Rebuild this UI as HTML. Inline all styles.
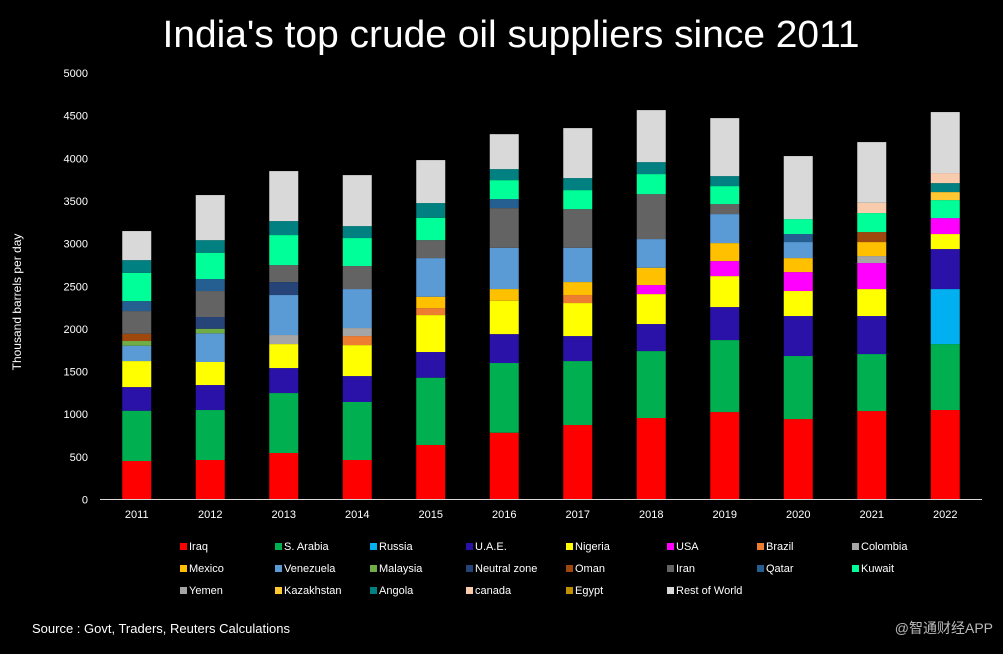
<!DOCTYPE html>
<html><head><meta charset="utf-8"><style>
html,body{margin:0;padding:0;background:#000;}
body{width:1003px;height:649px;overflow:hidden;font-family:"Liberation Sans","Noto Sans CJK SC",sans-serif;}
</style></head><body>
<svg id="chart" width="1003" height="649" xmlns="http://www.w3.org/2000/svg">
<rect width="1003" height="649" fill="#000"/>
<text x="511" y="47" text-anchor="middle" fill="#fff" font-size="38" textLength="697" lengthAdjust="spacingAndGlyphs" font-family="Liberation Sans, sans-serif">India's top crude oil suppliers since 2011</text>
<text transform="translate(21,302) rotate(-90)" text-anchor="middle" fill="#fff" font-size="12">Thousand barrels per day</text>
<g id="yaxis"></g><g id="bars"></g><g id="xaxis"></g><g id="legend"></g>
<text x="32" y="633" fill="#fff" font-size="13">Source : Govt, Traders, Reuters Calculations</text>
<text x="993" y="633" text-anchor="end" fill="#bbb" font-size="14" font-family="Liberation Sans, Noto Sans CJK SC, sans-serif">@智通财经APP</text>
</svg>
<script>
const years = ['2011','2012','2013','2014','2015','2016','2017','2018','2019','2020','2021','2022'];
const seriesNames = ['Iraq','S. Arabia','Russia','U.A.E.','Nigeria','USA','Brazil','Colombia','Mexico','Venezuela','Malaysia','Neutral zone','Oman','Iran','Qatar','Kuwait','Yemen','Kazakhstan','Angola','canada','Egypt','Rest of World'];
const seriesColors = ['#ff0000','#00b050','#00b0f0','#2a12a8','#ffff00','#ff00ff','#ed7d31','#a5a5a5','#ffc000','#5b9bd5','#70ad47','#264478','#9e480e','#636363','#255e91','#00ff99','#a5a5a5','#ffc832','#008080','#f8cbad','#bf9000','#d9d9d9'];
const iraq      = [451,463,545,463,639,783,873,955,1025,943,1037,1049];
const saudi     = [590,586,703,680,789,817,750,785,844,739,668,773];
const russia    = [0,0,0,0,0,0,0,0,0,0,0,645];
const uae       = [277,293,293,304,301,339,293,317,387,469,446,469];
const nigeria   = [305,270,281,363,433,391,387,351,363,293,316,176];
const usa       = [0,0,0,0,0,0,0,106,176,222,305,187];
const brazil    = [0,0,0,106,82,0,94,0,0,0,0,0];
const colombia  = [0,0,106,94,0,0,0,0,0,0,82,0];
const mexico    = [0,0,0,0,133,137,152,203,211,164,164,0];
const venezuela = [180,336,469,457,453,484,402,336,340,188,0,0];
const malaysia  = [55,54,0,0,0,0,0,0,0,0,0,0];
const neutral   = [0,137,152,0,0,0,0,0,0,0,0,0];
const oman      = [85,0,0,0,0,0,0,0,0,0,117,0];
const iran      = [266,305,199,270,211,465,453,527,117,0,0,0];
const qatar     = [117,140,0,0,0,106,0,0,0,94,0,0];
const kuwait    = [332,309,352,328,262,222,223,235,211,175,223,211];
const yemen     = [0,0,0,0,0,0,0,0,0,0,0,0];
const kazakh    = [0,0,0,0,0,0,0,0,0,0,0,94];
const angola    = [148,147,164,140,172,129,141,140,117,0,0,105];
const canada    = [0,0,0,0,0,0,0,0,0,0,121,118];
const egypt     = [0,0,0,0,0,0,0,0,0,0,0,0];
const rest      = [341,529,586,598,504,410,586,610,680,739,711,715];
const yTicks = [0,500,1000,1500,2000,2500,3000,3500,4000,4500,5000];
const allSeries = [iraq,saudi,russia,uae,nigeria,usa,brazil,colombia,mexico,venezuela,malaysia,neutral,oman,iran,qatar,kuwait,yemen,kazakh,angola,canada,egypt,rest];

const NS='http://www.w3.org/2000/svg';
const plotL=100, plotR=982, y0=499.5, yTop=73, yMax=5000;
const yScale=v=>y0-(v/yMax)*(y0-yTop);
const band=(plotR-plotL)/years.length;
const xCenter=i=>plotL+band*(i+0.5);
const barW=29;
function mk(tag,attrs,parent){const e=document.createElementNS(NS,tag);for(const k in attrs)e.setAttribute(k,attrs[k]);parent.appendChild(e);return e;}

const ya=document.getElementById('yaxis');
yTicks.forEach(t=>{
  const e=mk('text',{x:88,y:yScale(t)+4,'text-anchor':'end',fill:'#fff','font-size':11},ya);
  
  
  e.textContent=t;
});
const bars=document.getElementById('bars');
years.forEach((yr,i)=>{
  let cum=0;
  allSeries.forEach((s,k)=>{
    const v=s[i]; if(!v) return;
    const yt=yScale(cum+v), yb=yScale(cum);
    const r=mk('rect',{x:xCenter(i)-barW/2,y:yt,width:barW,height:yb-yt,fill:seriesColors[k]},bars);
    
    
    cum+=v;
  });
});
const xa=document.getElementById('xaxis');
const al=mk('line',{x1:plotL,x2:plotR,y1:y0,y2:y0,stroke:'#d9d9d9','stroke-width':1},xa);


years.forEach((yr,i)=>{
  const e=mk('text',{x:xCenter(i),y:518,'text-anchor':'middle',fill:'#fff','font-size':11},xa);
  
  
  e.textContent=yr;
});
const lg=document.getElementById('legend');
const colX=[180,275,370,466,566,667,757,852];
seriesNames.forEach((n,k)=>{
  const row=Math.floor(k/8), col=k%8;
  const g=mk('g',{},lg);
  
  
  const y=546+row*22;
  mk('rect',{x:colX[col],y:y-3,width:7,height:7,fill:seriesColors[k]},g);
  const t=mk('text',{x:colX[col]+9,y:y+4,fill:'#fff','font-size':11},g);
  t.textContent=n;
});
</script>
</body></html>
